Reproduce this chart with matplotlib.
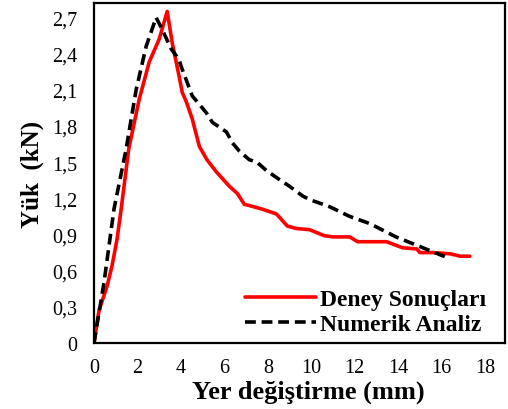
import matplotlib
matplotlib.use("Agg")
import matplotlib.pyplot as plt

# Deney Sonuçları (experiment)
deney_x = [0, 0.23, 0.6, 0.83, 1.06, 1.25, 1.6, 2.08, 2.54, 3.0, 3.37,
           3.6, 3.92, 4.06, 4.25, 4.52, 4.85, 5.2, 5.63, 6.23, 6.6, 6.92,
           7.15, 7.75, 8.4, 8.9, 9.3, 9.92, 10.6, 11.0, 11.77, 12.14, 13.47,
           14.2, 14.86, 15.0, 15.6, 16.4, 16.85, 17.3]
deney_y = [0, 0.27, 0.47, 0.64, 0.86, 1.11, 1.61, 2.02, 2.33, 2.52, 2.75,
           2.49, 2.21, 2.08, 2.0, 1.86, 1.63, 1.52, 1.42, 1.30, 1.24, 1.15,
           1.14, 1.11, 1.07, 0.97, 0.95, 0.94, 0.89, 0.88, 0.88, 0.84, 0.84,
           0.79, 0.78, 0.75, 0.75, 0.74, 0.72, 0.72]

# Numerik Analiz (numerical)
numerik_x = [0, 0.46, 0.92, 1.48, 1.94, 2.4, 2.86, 3.14, 3.55, 3.92, 4.0,
             4.52, 5.17, 5.45, 6.1, 6.37, 6.7, 7.15, 7.5, 7.94, 8.5, 9.0,
             9.6, 9.92, 10.85, 11.77, 12.7, 13.9, 15.0, 16.24]
numerik_y = [0, 0.5, 1.11, 1.61, 2.1, 2.46, 2.70, 2.6, 2.44, 2.35, 2.3,
             2.05, 1.91, 1.83, 1.75, 1.66, 1.59, 1.52, 1.50, 1.43, 1.36, 1.30,
             1.22, 1.19, 1.13, 1.05, 0.99, 0.88, 0.80, 0.71]

x_ticks = [0, 2, 4, 6, 8, 10, 12, 14, 16, 18]
y_ticks = [0, 0.3, 0.6, 0.9, 1.2, 1.5, 1.8, 2.1, 2.4, 2.7]
y_tick_labels = ["0", "0,3", "0,6", "0,9", "1,2", "1,5", "1,8", "2,1", "2,4", "2,7"]

plt.rcParams['font.family'] = ['Liberation Serif', 'DejaVu Serif']

fig = plt.figure(figsize=(5.08, 4.10), dpi=100)
ax = fig.add_axes([94/508, 1 - 344/410, (505-94)/508, (344-4)/410])

ax.plot(deney_x, deney_y, color='#ff0000', lw=2.6, label='Deney Sonuçları',
        solid_joinstyle='round', solid_capstyle='round')
ax.plot(numerik_x, numerik_y, color='black', lw=2.6, dashes=(3, 1.6),
        label='Numerik Analiz')

ax.set_xlim(0, 18.92)
ax.set_ylim(0, 2.82)
ax.set_xticks(x_ticks)
ax.set_xticklabels([str(t) for t in x_ticks])
ax.set_yticks(y_ticks)
ax.set_yticklabels(y_tick_labels)
ax.tick_params(axis='both', length=0, labelsize=14.5)
ax.tick_params(axis='x', pad=11)
ax.tick_params(axis='y', pad=12)
for s in ax.spines.values():
    s.set_linewidth(1.6)
    s.set_color('black')

ax.set_xlabel('Yer değiştirme (mm)', fontsize=19, fontweight='bold')
ax.xaxis.set_label_coords(0.522, -0.108)
ax.set_ylabel('Yük  (kN)', fontsize=18, fontweight='bold', labelpad=6)

ax.legend(loc='upper left', bbox_to_anchor=(0.367, 0.16), frameon=False,
          prop={'size': 17, 'weight': 'bold'}, handlelength=3.0,
          handletextpad=0.2, labelspacing=0.15, borderpad=0, borderaxespad=0)

fig.savefig('out.png', dpi=100)
